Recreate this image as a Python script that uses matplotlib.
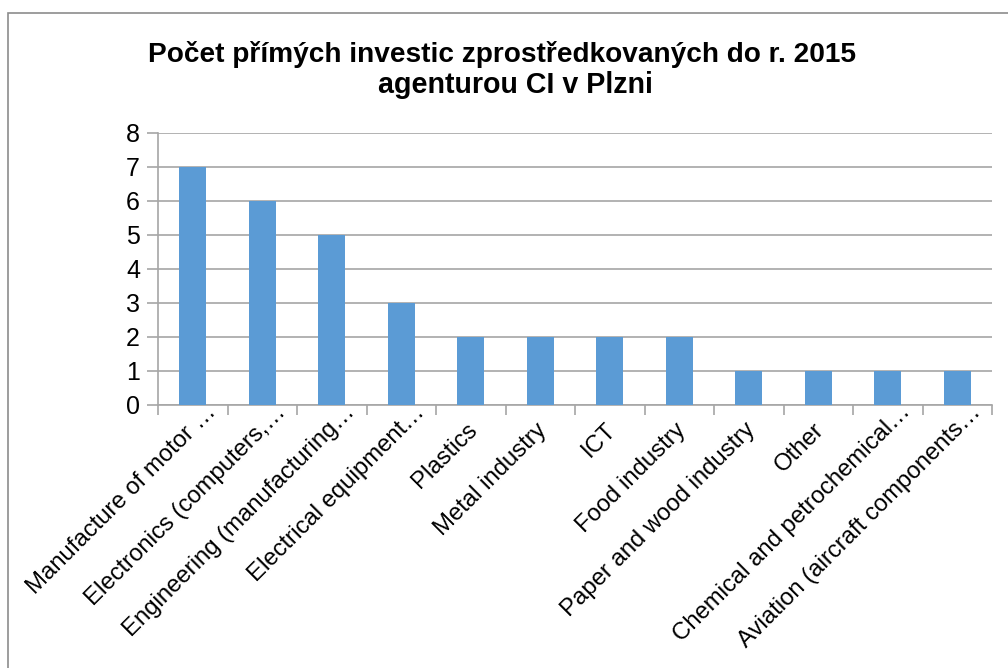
import matplotlib
matplotlib.use('Agg')
import matplotlib.pyplot as plt
import matplotlib.transforms as mtransforms
import numpy as np
from matplotlib.patches import Rectangle

plt.rcParams['font.family'] = ['Liberation Sans', 'DejaVu Sans']

categories = [
    'Manufacture of motor …',
    'Electronics (computers,…',
    'Engineering (manufacturing…',
    'Electrical equipment…',
    'Plastics',
    'Metal industry',
    'ICT',
    'Food industry',
    'Paper and wood industry',
    'Other',
    'Chemical and petrochemical…',
    'Aviation (aircraft components…',
]
counts = [7, 6, 5, 3, 2, 2, 2, 2, 1, 1, 1, 1]
title_lines = ['Počet přímých investic zprostředkovaných do r. 2015',
               'agenturou CI v Plzni']

grid_col = '#a6a6a6'
bar_col = '#5b9bd5'

fig = plt.figure(figsize=(10.08, 6.68), dpi=100)
# outer chart border
fig.patches.append(Rectangle((8 / 1008, -0.1), 1.2, 1 - 13 / 668 + 0.1,
                             transform=fig.transFigure, fill=False,
                             edgecolor='#8c8c8c', linewidth=1.2))

ax = fig.add_axes([158 / 1008, 1 - 405 / 668, (992 - 158) / 1008, (405 - 133) / 668])
x = np.arange(len(categories))
ax.bar(x, counts, width=0.39, color=bar_col, zorder=3)

ax.set_xlim(-0.5, len(categories) - 0.5)
ax.set_ylim(0, 8)
ax.set_yticks(range(0, 9))
ax.yaxis.grid(True, color=grid_col, linewidth=1.2, zorder=0)
ax.tick_params(axis='y', labelsize=18, length=8, color=grid_col, width=1.2, pad=5)

# category boundary ticks, labels centered on bars
ax.set_xticks(np.arange(len(categories) + 1) - 0.5)
ax.set_xticklabels([])
ax.tick_params(axis='x', which='major', length=7, color=grid_col, width=1.2)
ax.set_xticks(x, minor=True)
ax.set_xticklabels(categories, minor=True, rotation=45, ha='right',
                   va='top', rotation_mode='anchor', fontsize=17.2)
ax.tick_params(axis='x', which='minor', length=0, pad=10)

# nudge labels; truncated ones sit further up-right in the original
for lbl in ax.get_xticklabels(minor=True):
    dx, dy = -5, 0
    if lbl.get_text().endswith('…'):
        dx, dy = 12, 18
    off = mtransforms.ScaledTranslation(dx / 100, dy / 100, fig.dpi_scale_trans)
    lbl.set_transform(lbl.get_transform() + off)

for s in ['top', 'right']:
    ax.spines[s].set_visible(False)
for s in ['left', 'bottom']:
    ax.spines[s].set_color(grid_col)
    ax.spines[s].set_linewidth(1.2)

# title: two lines, the second sits a little right of centre as in the original
fig.text(501.5 / 1008, 1 - 62 / 668, title_lines[0], ha='center', va='baseline',
         fontsize=20.2, fontweight='bold')
fig.text(515 / 1008, 1 - 93 / 668, title_lines[1], ha='center', va='baseline',
         fontsize=20.6, fontweight='bold')

fig.savefig('out.png', dpi=100)
